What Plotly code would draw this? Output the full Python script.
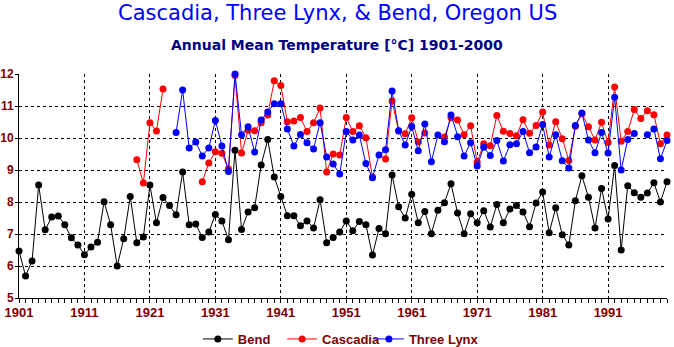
import plotly.graph_objects as go

years = list(range(1901, 2001))

bend = [6.47, 5.69, 6.16, 8.53, 7.13, 7.53, 7.56, 7.29, 6.88, 6.66,
        6.35, 6.59, 6.74, 8.01, 7.29, 6.00, 6.85, 8.17, 6.73, 6.91,
        8.53, 7.35, 8.14, 7.89, 7.60, 8.94, 7.29, 7.31, 6.89, 7.06,
        7.61, 7.41, 6.82, 9.62, 7.14, 7.69, 7.82, 9.16, 9.95, 8.78,
        8.17, 7.57, 7.57, 7.26, 7.41, 7.19, 8.07, 6.73, 6.89, 7.06,
        7.41, 7.10, 7.39, 7.29, 6.34, 7.17, 7.01, 8.84, 7.85, 7.50,
        8.24, 7.35, 7.70, 7.01, 7.74, 7.98, 8.57, 7.66, 7.01, 7.63,
        7.35, 7.73, 7.22, 7.92, 7.35, 7.78, 7.89, 7.69, 7.23, 7.97,
        8.31, 7.04, 7.82, 6.98, 6.66, 8.04, 8.82, 8.15, 7.19, 8.42,
        7.47, 9.14, 6.50, 8.51, 8.29, 8.15, 8.28, 8.60, 8.00, 8.63]

cascadia_start = 1919
cascadia_vals = [9.32, 8.59, 10.48, 10.22, 11.53, None, None, None, None, None,
                 8.63, 9.22, 9.57, 9.52, 9.03, 11.95, 9.53, 10.24, 10.23, 10.48,
                 10.72, 11.79, 11.64, 10.51, 10.53, 10.64, 10.20, 10.48, 10.94, 8.94,
                 9.50, 9.47, 10.64, 10.20, 10.38, 10.01, 8.78, None, 9.34, 11.16,
                 10.22, 10.13, 10.63, 9.875, 10.16, None, None, 10.03, 10.63, 10.56,
                 10.10, 10.38, 9.24, 9.82, 9.76, 10.70, 10.21, 10.14, 10.07, 10.57,
                 10.15, 10.39, 10.81, 9.78, 10.51, 9.98, 9.30, 10.37, 10.76, 10.35,
                 9.94, 10.49, 9.86, 11.59, 9.90, 10.20, 10.89, 10.61, 10.85, 10.73,
                 9.82, 10.09]

lynx_start = 1925
lynx_vals = [10.17, 11.50, 9.69, 9.875, 9.44, 9.69, 10.55, 9.75, 8.95, 12.0,
             10.10, 10.35, 9.56, 10.56, 10.81, 11.07, 11.07, 10.28, 9.75, 10.11,
             9.85, 9.66, 10.48, 9.41, 9.19, 8.875, 10.20, 9.94, 10.09, 9.20,
             8.76, 9.47, 9.63, 11.47, 10.23, 9.78, 10.36, 9.60, 10.44, 9.26,
             10.09, 9.88, 10.72, 10.04, 9.44, 9.85, 9.125, 9.71, 9.45, 9.92,
             9.28, 9.79, 9.82, 10.20, 9.54, 9.72, 10.42, 9.41, 10.10, 9.29,
             9.06, 10.39, 10.78, 9.94, 9.54, 10.17, 9.53, 11.27, 9.00, 9.95,
             10.14, None, 10.10, 10.28, 9.35, 9.92]

cascadia = [None] * (cascadia_start - 1901) + cascadia_vals
three_lynx = [None] * (lynx_start - 1901) + lynx_vals

series = [("Bend", bend, "#000000"),
          ("Cascadia", cascadia, "#ff0000"),
          ("Three Lynx", three_lynx, "#0000ff")]
legend_ids = ["legend", "legend2", "legend3"]
legend_x = [0.276, 0.406, 0.540]

x_ticks = list(range(1901, 2001, 10))
y_ticks = list(range(5, 13))

label_color = "#800000"
lab_font = "Liberation Sans"
fig = go.Figure()
for (name, vals, col), lid in zip(series, legend_ids):
    fig.add_trace(go.Scatter(
        x=years, y=vals, name=name, mode="lines+markers",
        line=dict(color=col, width=1),
        marker=dict(color=col, size=7, symbol="circle"),
        connectgaps=False, cliponaxis=False, legend=lid))

legend_common = dict(orientation="h", xanchor="left", y=-0.183, yanchor="middle",
                     font=dict(family=lab_font, size=13, color=label_color, weight="bold"),
                     itemwidth=30, bgcolor="rgba(0,0,0,0)")
legends = {lid: dict(legend_common, x=lx) for lid, lx in zip(legend_ids, legend_x)}

fig.update_layout(
    width=674, height=347,
    margin=dict(l=19, r=7, t=74, b=49, autoexpand=False),
    paper_bgcolor="white", plot_bgcolor="white",
    showlegend=True,
    annotations=[
        dict(text="Cascadia, Three Lynx, & Bend, Oregon US", xref="paper", yref="paper",
             x=0.491, y=1.272, xanchor="center", yanchor="middle", showarrow=False,
             font=dict(family="DejaVu Sans", size=21, color="#0000ff")),
        dict(text="Annual Mean Temperature [°C] 1901-2000", xref="paper", yref="paper",
             x=0.491, y=1.129, xanchor="center", yanchor="middle", showarrow=False,
             font=dict(family="DejaVu Sans", size=14, color="#000080", weight="bold")),
    ],
    **legends,
)

fig.update_xaxes(
    range=[1901, 2000], tickmode="array", tickvals=x_ticks,
    ticktext=[str(v) for v in x_ticks],
    showline=True, linecolor="black", linewidth=1,
    ticks="outside", ticklen=4, tickcolor="black",
    ticklabelstandoff=-2,
    minor=dict(dtick=1, tick0=1901, ticks="outside", ticklen=4, tickcolor="black", showgrid=False),
    showgrid=True, gridcolor="black", griddash="dot", gridwidth=1,
    zeroline=False,
    tickfont=dict(family=lab_font, size=13, color=label_color, weight="bold"),
)
fig.update_yaxes(
    range=[5, 12], tickmode="array", tickvals=y_ticks,
    showline=True, linecolor="black", linewidth=1,
    ticks="outside", ticklen=3, tickcolor="black",
    ticklabelstandoff=-1,
    showgrid=True, gridcolor="black", griddash="dot", gridwidth=1,
    zeroline=False,
    tickfont=dict(family=lab_font, size=12, color=label_color, weight="bold"),
)

fig.write_html("out.html")
